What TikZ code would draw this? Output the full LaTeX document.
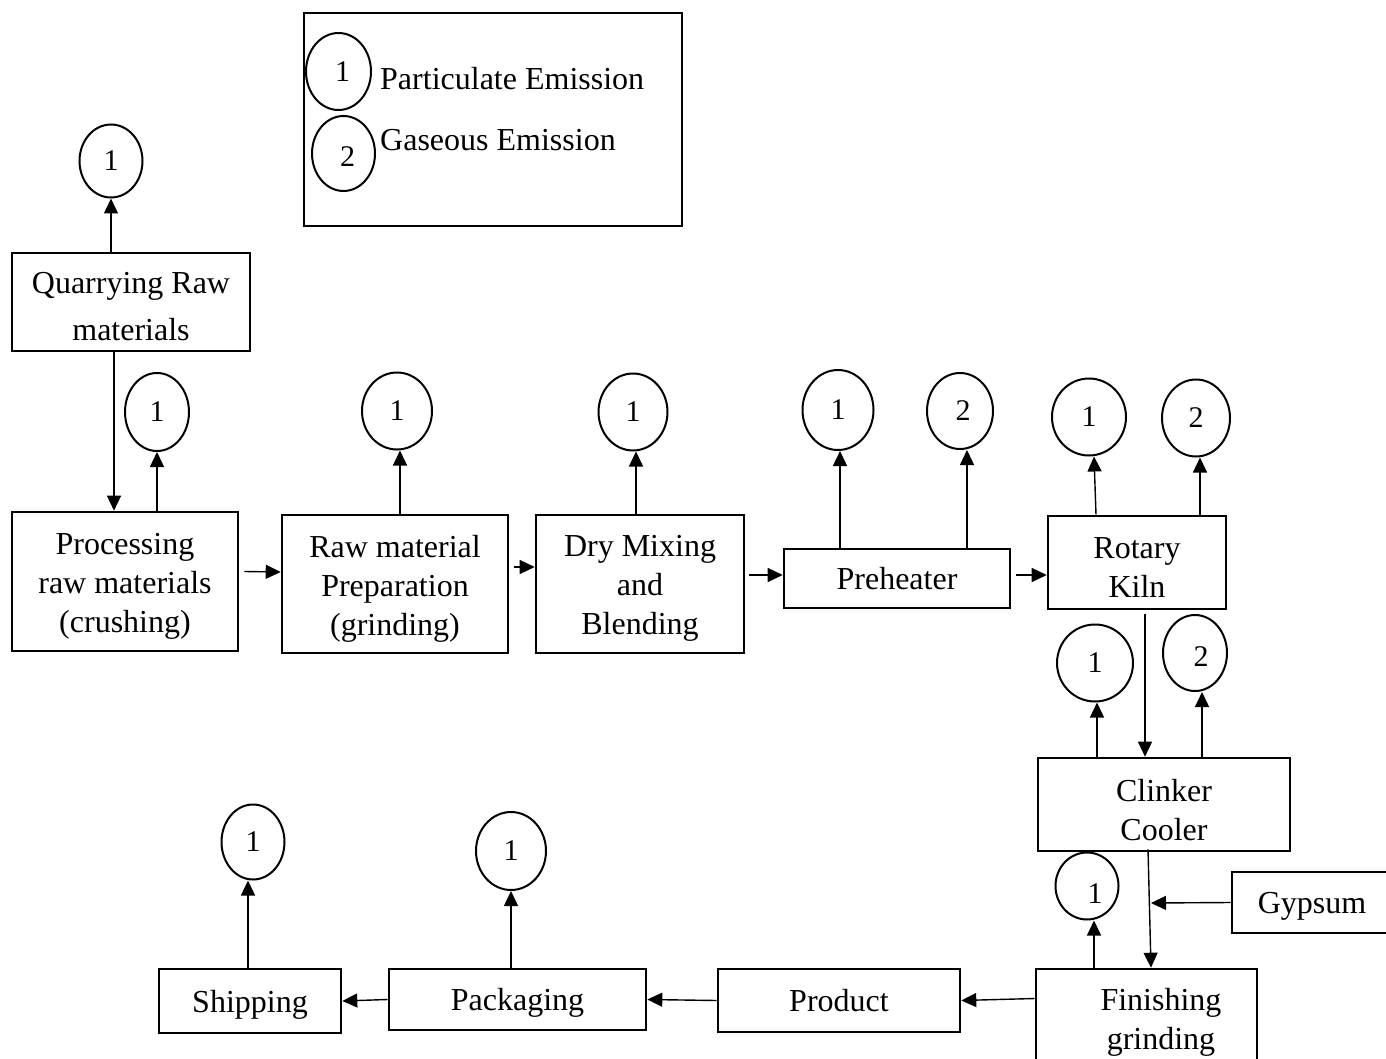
\documentclass[tikz,border=0pt]{standalone}
\usepackage{fontspec}
\setmainfont{Liberation Serif}
\usetikzlibrary{shapes.geometric,arrows.meta,calc}
\begin{document}
\begin{tikzpicture}[x=1pt,y=-1pt,
 box/.style={draw,line width=2.6pt,inner sep=0pt,align=center,text height=30pt,text depth=8pt,font=\fontsize{32}{39}\selectfont},
 txt/.style={inner sep=0pt,align=center,font=\fontsize{32}{39}\selectfont},
 emit/.style={ellipse,draw,line width=2pt,inner sep=0pt,font=\fontsize{30}{36}\selectfont},
 arr/.style={line width=1.4pt,-{Triangle[length=15pt,width=14pt]}}]
\useasboundingbox (0,0) rectangle (1386,1059);
\clip (0,0) rectangle (1386,1059);

% legend
\node[draw,line width=2.6pt,minimum width=378pt,minimum height=213pt,inner sep=0pt] (legend) at (493,119.5) {};
\node[emit,minimum width=65pt,minimum height=77pt] (L1) at (338.5,71.5) {\hspace*{8pt}1};
\node[emit,minimum width=63pt,minimum height=75pt] (L2) at (343.5,153.5) {\hspace*{8pt}\raisebox{-13.5pt}[0pt][0pt]{2}};
\node[txt,anchor=west] (lt1) at (380,79) {Particulate Emission};
\node[txt,anchor=west] (lt2) at (380,140) {Gaseous Emission};

% boxes
\node[box,minimum width=238pt,minimum height=98pt] (quarry) at (131,302) {};
\begin{scope}
\clip (12,253) rectangle (250,343);
\node[txt] (quarrytxt) at (131,307) {Quarrying Raw\\[8pt]materials};
\end{scope}
\node[box,minimum width=226pt,minimum height=139pt] (proc) at (125,581.5) {};
\node[txt] (proctxt) at (125,586.5) {Processing\\raw materials\\(crushing)};
\node[box,minimum width=226pt,minimum height=138pt] (rawp) at (395,584) {};
\node[txt] (rawptxt) at (395,588.5) {Raw material\\Preparation\\(grinding)};
\node[box,minimum width=208pt,minimum height=138pt] (dry) at (640,584) {};
\node[txt] (drytxt) at (640,588.5) {Dry Mixing\\and\\Blending};
\node[box,minimum width=226pt,minimum height=59pt] (pre) at (897,578.5) {Preheater};
\node[box,minimum width=178pt,minimum height=93pt] (kiln) at (1137,562.5) {};
\node[txt] (kilntxt) at (1137,568) {Rotary\\Kiln};
\node[box,minimum width=252pt,minimum height=93pt] (cool) at (1164,804.5) {};
\node[txt] (cooltxt) at (1164,810) {Clinker\\Cooler};
\node[box,minimum width=160pt,minimum height=61pt] (gyp) at (1312,902.5) {Gypsum};
\node[box,minimum width=221pt,minimum height=131pt] (fin) at (1146.5,1034.5) {};
\node[txt] (fintxt) at (1161,1022) {Finishing\\grinding};
\node[box,minimum width=242pt,minimum height=63pt] (prod) at (839,1000.5) {Product};
\node[box,minimum width=257pt,minimum height=61pt] (pack) at (517.5,999.5) {Packaging};
\node[box,minimum width=182pt,minimum height=64pt] (ship) at (250,1001) {Shipping};

% emission ellipses
\node[emit,minimum width=63pt,minimum height=73pt] (q1) at (111,161) {1};
\node[emit,minimum width=64pt,minimum height=78pt] (e2) at (157,412) {1};
\node[emit,minimum width=70pt,minimum height=77pt] (e3) at (397,411) {1};
\node[emit,minimum width=69pt,minimum height=77pt] (e4) at (633,412) {1};
\node[emit,minimum width=71pt,minimum height=80pt] (e5) at (838,410) {1};
\node[emit,minimum width=66pt,minimum height=76pt] (e6) at (960,411) {\hspace*{6pt}2};
\node[emit,minimum width=74pt,minimum height=77pt] (e7) at (1089,417) {1};
\node[emit,minimum width=68pt,minimum height=77pt] (e8) at (1196,418) {2};
\node[emit,minimum width=76pt,minimum height=77pt] (e9) at (1095,663) {1};
\node[emit,minimum width=64pt,minimum height=76pt] (e10) at (1195,653) {\hspace*{12pt}\raisebox{-13pt}[0pt][0pt]{2}};
\node[emit,minimum width=63pt,minimum height=67pt] (e11) at (1087,886) {\hspace*{16pt}\raisebox{-17pt}[0pt][0pt]{1}};
\node[emit,minimum width=70pt,minimum height=78pt] (e12) at (511,851) {1};
\node[emit,minimum width=63pt,minimum height=75pt] (e13) at (253,842) {1};

% connectors
\draw[arr] (quarry.north -| q1.south) -- (q1.south);
\draw[arr] ([xshift=-17pt]quarry.south) -- ([xshift=-11pt]proc.north);
\draw[arr] (proc.north -| e2.south) -- (e2.south);
\draw[arr] ([xshift=5pt,yshift=10pt]proc.east) -- ([yshift=12pt]rawp.west);
\draw[arr] ($(rawp.north -| e3.south)+(3,0)$) -- ($(e3.south)+(3,0)$);
\draw[arr] ([xshift=5pt,yshift=17pt]rawp.east) -- ([yshift=17pt]dry.west);
\draw[arr] ($(dry.north -| e4.south)+(3,0)$) -- ($(e4.south)+(3,0)$);
\draw[arr] ([xshift=4pt,yshift=9pt]dry.east) -- ([yshift=3.5pt]pre.west);
\draw[arr] ($(pre.north -| e5.south)+(2,0)$) -- ($(e5.south)+(2,0)$);
\draw[arr] ($(pre.north -| e6.south)+(7,0)$) -- ($(e6.south)+(7,0)$);
\draw[arr] ([xshift=5pt,yshift=3.5pt]pre.east) -- ([yshift=-12.5pt]kiln.west);
\draw[arr] ($(kiln.north -| e7.south)+(7,0)$) -- ($(e7.south)+(5,0)$);
\draw[arr] ($(kiln.north -| e8.south)+(4,0)$) -- ($(e8.south)+(4,0)$);
\draw[arr] ([xshift=8pt,yshift=-4pt]kiln.south) -- ([xshift=-19pt]cool.north);
\draw[arr] ($(cool.north -| e9.south)+(2,0)$) -- ($(e9.south)+(2,0)$);
\draw[arr] ($(cool.north -| e10.south)+(7,0)$) -- ($(e10.south)+(7,0)$);
\draw[arr] ([xshift=-16pt,yshift=3pt]cool.south) -- ([xshift=4.5pt]fin.north);
\coordinate (gj) at (1151,903);
\draw[arr] (gyp.west) -- (gj);
\draw[arr] ($(fin.north -| e11.south)+(7,0)$) -- ($(e11.south)+(7,0)$);
\draw[arr] ([yshift=36pt]fin.west) -- (prod.east);
\draw[arr] (prod.west) -- (pack.east);
\draw[arr] (pack.north -| e12.south) -- (e12.south);
\draw[arr] (pack.west) -- (ship.east);
\draw[arr] ($(ship.north -| e13.south)+(-5,0)$) -- ($(e13.south)+(-5,0)$);
\end{tikzpicture}
\end{document}
